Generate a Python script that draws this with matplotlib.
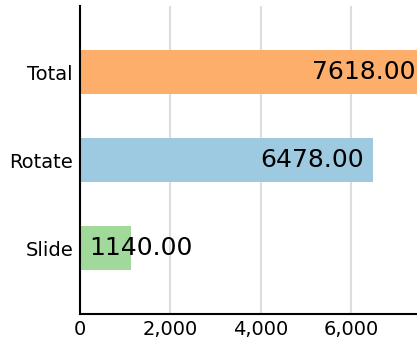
import matplotlib
matplotlib.use('Agg')
import matplotlib.pyplot as plt
from matplotlib.ticker import FuncFormatter

categories = ['Slide', 'Rotate', 'Total']
values = [1140, 6478, 7618]
colors = ['#a1d99b', '#9ecae1', '#fdae6b']

fig = plt.figure(figsize=(4.17, 3.39), dpi=100)
# axes runs past the right edge so the biggest bar is cut off by the figure
ax = fig.add_axes([80 / 417, 25 / 339, 344 / 417, 308 / 339])

pos = list(range(len(categories)))
ax.barh(pos, values, height=0.5, color=colors, zorder=2)

ax.set_xlim(0, max(values))
ax.set_ylim(-0.75, len(categories) - 0.25)
ax.set_yticks(pos)
ax.set_yticklabels(categories)
ax.set_xticks([0, 2000, 4000, 6000])
ax.xaxis.set_major_formatter(FuncFormatter(lambda v, p: '{:,.0f}'.format(v)))
ax.tick_params(axis='both', length=0, labelsize=14)
ax.tick_params(axis='y', pad=5)
ax.tick_params(axis='x', pad=4)

ax.grid(axis='x', color='#dddddd', linewidth=1.5, zorder=0)
ax.set_axisbelow(True)
for side in ['top', 'right']:
    ax.spines[side].set_visible(False)
for side in ['left', 'bottom']:
    ax.spines[side].set_linewidth(1.5)
    ax.spines[side].set_color('black')

# value labels: right-aligned inside the bar, or from the start if the bar is short
for p, v in zip(pos, values):
    label = '{:.2f}'.format(v)
    if v < 2500:
        ax.annotate(label, (0, p), xytext=(7, 0), textcoords='offset points',
                    ha='left', va='center', fontsize=18, zorder=3)
    else:
        ax.annotate(label, (v, p), xytext=(-6, 0), textcoords='offset points',
                    ha='right', va='center', fontsize=18, zorder=3)

plt.savefig('out.png', dpi=100)
